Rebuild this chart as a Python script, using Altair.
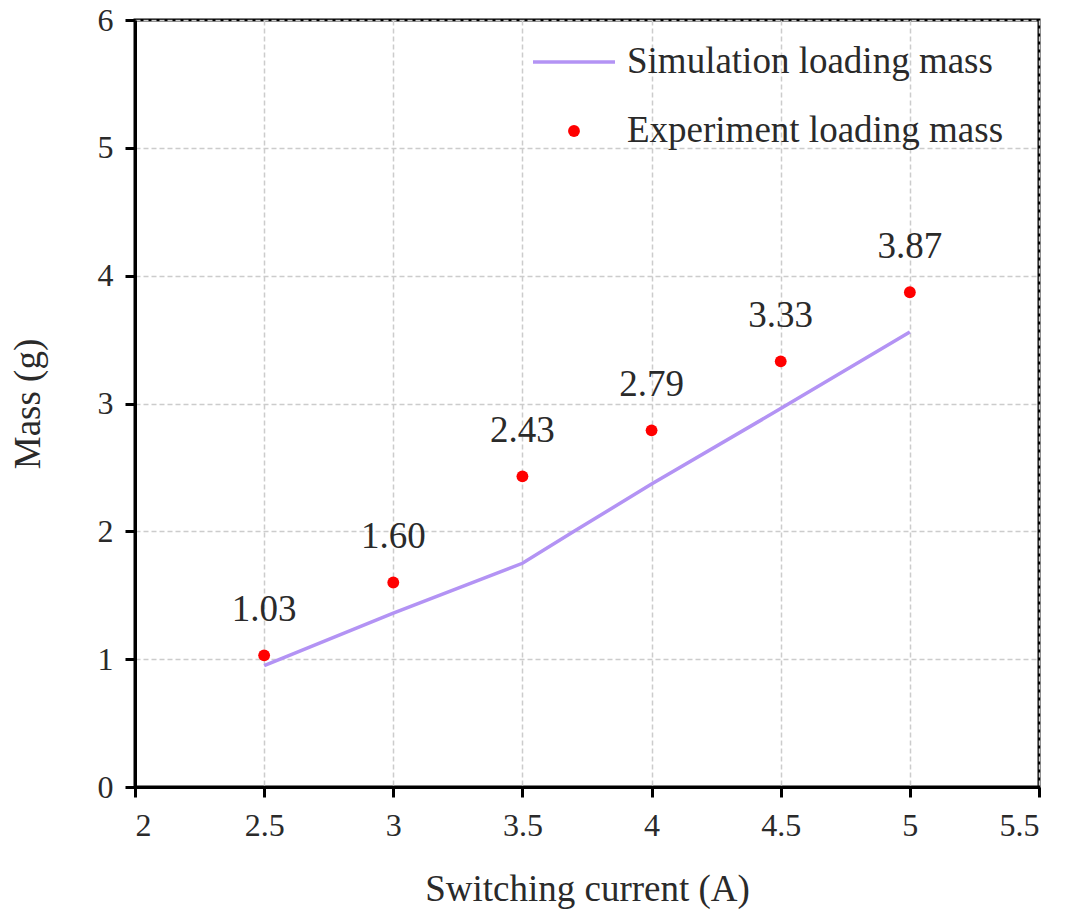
import altair as alt
import pandas as pd

# Simulation curve
sim_x = [2.5, 3.0, 3.5, 3.7, 4.0, 4.5, 5.0]
sim_y = [0.95, 1.36, 1.75, 2.00, 2.37, 2.96, 3.56]

# Experiment points
exp_x = [2.5, 3.0, 3.5, 4.0, 4.5, 5.0]
exp_y = [1.03, 1.60, 2.43, 2.79, 3.33, 3.87]
exp_labels = ["1.03", "1.60", "2.43", "2.79", "3.33", "3.87"]

legend_labels = ["Simulation loading mass", "Experiment loading mass"]

FONT = "Liberation Serif"
TXT = "#2a2a2a"

sim_df = pd.DataFrame({"x": sim_x, "y": sim_y})
exp_df = pd.DataFrame({"x": exp_x, "y": exp_y, "label": exp_labels})

xs = alt.Scale(domain=[2, 5.5], nice=False, zero=False)
ys = alt.Scale(domain=[0, 6], nice=False)

xaxis = alt.Axis(title="Switching current (A)", values=[2, 2.5, 3, 3.5, 4, 4.5, 5, 5.5],
                 format="~g", grid=True, titlePadding=30, labelPadding=13)
yaxis = alt.Axis(title="Mass (g)", values=[0, 1, 2, 3, 4, 5, 6], format="d", grid=True,
                 titlePadding=50, labelPadding=12)

line = alt.Chart(sim_df).mark_line(color="#b393f4", strokeWidth=3.5).encode(
    x=alt.X("x:Q", scale=xs, axis=xaxis),
    y=alt.Y("y:Q", scale=ys, axis=yaxis),
)

pts = alt.Chart(exp_df).mark_circle(color="#ff0000", size=140, opacity=1).encode(
    x=alt.X("x:Q", scale=xs),
    y=alt.Y("y:Q", scale=ys),
)

labels = alt.Chart(exp_df).mark_text(dy=-45, font=FONT, fontSize=37, color=TXT).encode(
    x=alt.X("x:Q", scale=xs),
    y=alt.Y("y:Q", scale=ys),
    text="label:N",
)

# Legend (decoration drawn in pixel space)
leg_df = pd.DataFrame({"label": [legend_labels[0]]})
leg_line = alt.Chart(leg_df).mark_rule(color="#b393f4", strokeWidth=3.5).encode(
    x=alt.value(398), x2=alt.value(480), y=alt.value(42)
)
leg_text1 = alt.Chart(leg_df).mark_text(align="left", baseline="middle", font=FONT,
                                        fontSize=37, color=TXT).encode(
    x=alt.value(492), y=alt.value(42), text="label:N"
)
leg_df2 = pd.DataFrame({"label": [legend_labels[1]]})
leg_dot = alt.Chart(leg_df2).mark_circle(color="#ff0000", size=140, opacity=1).encode(
    x=alt.value(439), y=alt.value(111)
)
leg_text2 = alt.Chart(leg_df2).mark_text(align="left", baseline="middle", font=FONT,
                                         fontSize=37, color=TXT).encode(
    x=alt.value(492), y=alt.value(111), text="label:N"
)

chart = alt.layer(line, pts, labels, leg_line, leg_text1, leg_dot, leg_text2).properties(
    width=904, height=767,
    background="white",
    autosize=alt.AutoSizeParams(type="none"),
    padding={"left": 127, "top": 12, "right": 18, "bottom": 132},
).configure_view(
    stroke="black", strokeWidth=3
).configure_axis(
    domainColor="black", domainWidth=3, tickColor="black", tickWidth=3, tickSize=10,
    labelFont=FONT, labelFontSize=32, labelColor=TXT,
    titleFont=FONT, titleFontSize=37, titleColor=TXT, titleFontWeight="normal",
    gridColor="#cccccc", gridDash=[5, 3], gridWidth=1.5,
)

chart.save("out.html", embed_options={"renderer": "svg", "actions": False})
